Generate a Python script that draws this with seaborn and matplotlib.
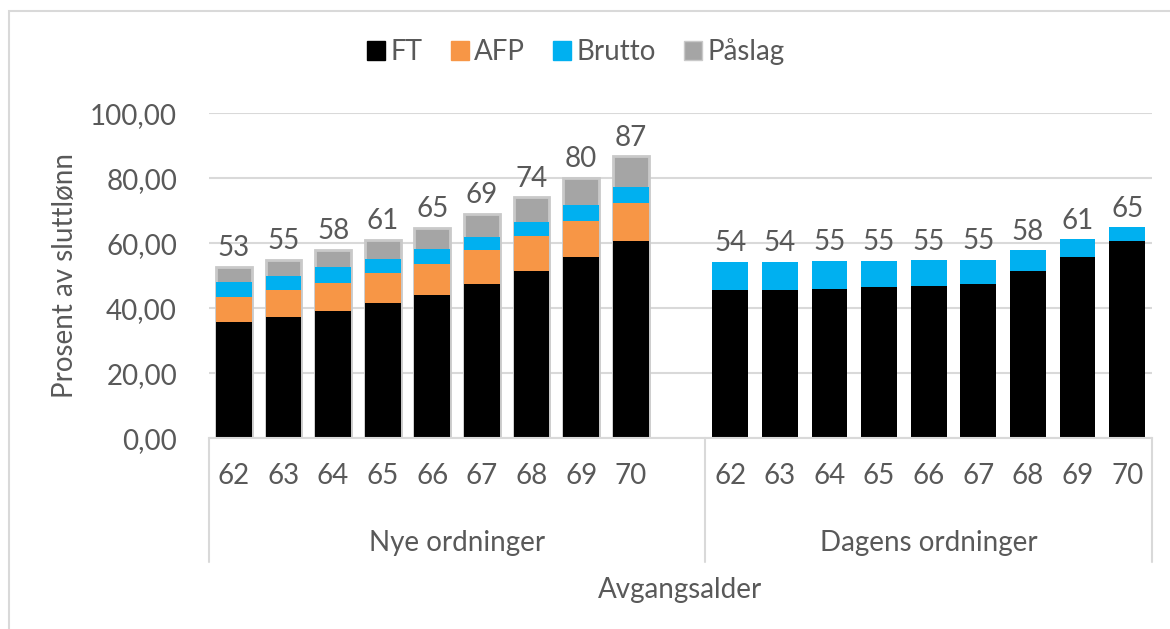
import matplotlib
matplotlib.use("Agg")
import matplotlib.pyplot as plt
import matplotlib.transforms as mtransforms
from matplotlib.patches import Patch, Rectangle
import pandas as pd
import seaborn as sns

ages = [62, 63, 64, 65, 66, 67, 68, 69, 70]
groups = ["Nye ordninger", "Dagens ordninger"]
series = ["FT", "AFP", "Brutto", "Påslag"]
colors = ["#000000", "#F79646", "#00B0F0", "#A5A5A5"]

nye_ft = [35.7, 37.2, 39.3, 41.6, 44.0, 47.6, 51.5, 55.9, 60.6]
nye_afp = [7.9, 8.4, 8.6, 9.2, 9.5, 10.2, 10.7, 11.0, 11.8]
nye_brutto = [4.4, 4.4, 4.9, 4.3, 4.7, 4.1, 4.4, 4.9, 4.8]
nye_paslag = [4.7, 5.0, 5.2, 5.9, 6.5, 7.1, 7.5, 8.3, 9.6]

dagens_ft = [45.5, 45.5, 46.0, 46.5, 46.9, 47.6, 51.5, 55.9, 60.7]
dagens_afp = [0, 0, 0, 0, 0, 0, 0, 0, 0]
dagens_brutto = [8.9, 8.9, 8.6, 8.2, 7.9, 7.3, 6.3, 5.4, 4.2]
dagens_paslag = [0, 0, 0, 0, 0, 0, 0, 0, 0]

sns.set_style("white")
plt.rcParams["font.family"] = ["Lato", "DejaVu Sans"]
txt = "#595959"
grid_c = "#D9D9D9"

rows = []
for grp, ft, afp, br, pa in [(groups[0], nye_ft, nye_afp, nye_brutto, nye_paslag),
                             (groups[1], dagens_ft, dagens_afp, dagens_brutto, dagens_paslag)]:
    for i, a in enumerate(ages):
        rows.append({"slot": f"{grp[0]}{a}", "group": grp, "age": a,
                     "FT": ft[i], "AFP": afp[i], "Brutto": br[i], "Påslag": pa[i]})
df = pd.DataFrame(rows)
df["c1"] = df["FT"]
df["c2"] = df["c1"] + df["AFP"]
df["c3"] = df["c2"] + df["Brutto"]
df["c4"] = df["c3"] + df["Påslag"]

# empty slot between the two groups, like the Excel original
order = [f"N{a}" for a in ages] + ["gap"] + [f"D{a}" for a in ages]

fig = plt.figure(figsize=(11.7, 6.29), dpi=100)
ax = fig.add_axes([209 / 1170, 1 - 438.3 / 629, 943 / 1170, 325 / 629])

common = dict(x="slot", order=order, width=0.72, saturation=1, errorbar=None, ax=ax)

# invisible totals layer, only for the labels
sns.barplot(data=df, y="c4", color="white", alpha=0, **common)
ax.bar_label(ax.containers[0], fmt="{:.0f}", padding=4, fontsize=20, color=txt)

sns.barplot(data=df[df["Påslag"] > 0], y="c4", color=colors[3],
            edgecolor="#C9C9C9", linewidth=2, **common)
sns.barplot(data=df, y="c3", color=colors[2], linewidth=0, **common)
sns.barplot(data=df[df["AFP"] > 0], y="c2", color=colors[1], linewidth=0, **common)
sns.barplot(data=df, y="c1", color=colors[0], linewidth=0, **common)

ax.set_xlim(-0.5, 18.5)
ax.set_ylim(0, 100)
yt = [0, 20, 40, 60, 80, 100]
ax.set_yticks(yt)
ax.set_yticklabels([f"{v:.2f}".replace(".", ",") for v in yt])
ax.set_xticks(range(len(order)))
ax.set_xticklabels([str(a) for a in ages] + [""] + [str(a) for a in ages])
ax.tick_params(axis="both", length=0, labelsize=20, labelcolor=txt)
ax.tick_params(axis="y", pad=23)
ax.tick_params(axis="x", pad=18)
ax.yaxis.grid(True, color=grid_c, lw=1.5)
ax.set_axisbelow(True)
for s in ["left", "right", "top"]:
    ax.spines[s].set_visible(False)
ax.spines["bottom"].set_color(grid_c)
ax.spines["bottom"].set_linewidth(1.5)

ax.set_xlabel("")
ax.set_ylabel("Prosent av sluttlønn", fontsize=20, color=txt)
ax.yaxis.set_label_coords(-0.139, 0.5)

# two-level category axis
trans = mtransforms.blended_transform_factory(ax.transData, ax.transAxes)
for xv in [-0.5, 9.5, 18.5]:
    ax.plot([xv, xv], [0, -0.381], transform=trans, color=grid_c, lw=1.5, clip_on=False)
ax.text(4.5, -0.322, groups[0], transform=trans, ha="center", va="center",
        fontsize=20, color=txt)
ax.text(14.0, -0.322, groups[1], transform=trans, ha="center", va="center",
        fontsize=20, color=txt)
ax.text(0.5, -0.466, "Avgangsalder", transform=ax.transAxes, ha="center", va="center",
        fontsize=20, color=txt)

handles = [Patch(facecolor=c, edgecolor=("#C9C9C9" if s == "Påslag" else c), label=s)
           for s, c in zip(series, colors)]
fig.legend(handles=handles, loc="center", bbox_to_anchor=(576 / 1170, 1 - 52 / 629),
           ncol=4, frameon=False, fontsize=20, labelcolor=txt,
           handlelength=0.65, handleheight=0.65, handletextpad=0.2, columnspacing=1.0)

# chart area border
fig.add_artist(Rectangle((9 / 1170, -0.1), 2, 1 - 11 / 629 + 0.1, transform=fig.transFigure,
                         fill=False, edgecolor=grid_c, lw=1.5))

fig.savefig("out.png", dpi=100)
